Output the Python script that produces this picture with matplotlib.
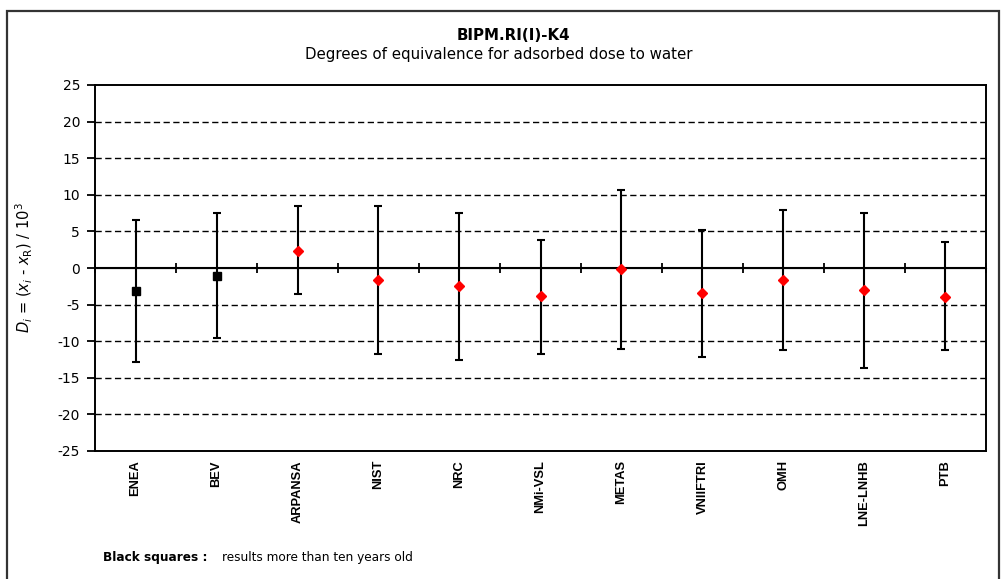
import matplotlib
matplotlib.use("Agg")
import matplotlib.pyplot as plt
from matplotlib.patches import Rectangle
import numpy as np

# ---- data ----
labs = ["ENEA", "BEV", "ARPANSA", "NIST", "NRC", "NMi-VSL", "METAS",
        "VNIIFTRI", "OMH", "LNE-LNHB", "PTB"]
vals = [-3.1, -1.05, 2.3, -1.6, -2.5, -3.8, -0.1, -3.4, -1.7, -3.0, -4.0]
upper = [6.5, 7.55, 8.5, 8.5, 7.55, 3.8, 10.6, 5.15, 7.9, 7.55, 3.55]
lower = [-12.9, -9.6, -3.6, -11.8, -12.6, -11.75, -11.0, -12.1, -11.2, -13.7, -11.2]
old = [True, True, False, False, False, False, False, False, False, False, False]
yticks = [-25, -20, -15, -10, -5, 0, 5, 10, 15, 20, 25]
gridvals = [-20, -15, -10, -5, 5, 10, 15, 20]

W, H = 1002, 579
fig = plt.figure(figsize=(W / 100, H / 100), dpi=100)
ax = fig.add_axes([95 / W, 1 - 451 / H, (986 - 95) / W, (451 - 85) / H])

x = np.arange(len(labs))
v = np.array(vals)
up = np.array(upper)
lo = np.array(lower)
oldm = np.array(old)

# gridlines
for g in gridvals:
    ax.axhline(g, color="black", lw=1.0, ls=(0, (4.5, 2.5)), zorder=1)
# zero line
ax.axhline(0, color="black", lw=1.5, zorder=2)

# error bars
ax.errorbar(x, v, yerr=[v - lo, up - v], fmt="none", ecolor="black",
            elinewidth=1.5, capsize=2.7, capthick=1.5, zorder=3)
ax.plot(x[oldm], v[oldm], ls="none", marker="s", ms=5.8, color="black", zorder=4)
ax.plot(x[~oldm], v[~oldm], ls="none", marker="D", ms=5.0, color="#ff0000",
        mec="#ff0000", zorder=4)

ax.set_xlim(-0.5, len(labs) - 0.5)
ax.set_ylim(-25, 25)
ax.set_yticks(yticks)
ax.set_yticklabels([str(t) for t in yticks], fontsize=10, family="DejaVu Sans")
ax.tick_params(axis="y", direction="out", length=5.8, width=1.3, pad=5)
ax.set_xticks(x)
ax.set_xticklabels(labs, rotation=90, fontsize=9.3, fontweight="bold",
                   family=["Liberation Sans", "DejaVu Sans"], va="top")
ax.tick_params(axis="x", length=0, pad=6.5)
for s in ax.spines.values():
    s.set_linewidth(1.4)
    s.set_color("black")

# zero axis with category boundary ticks
sec = ax.secondary_xaxis(0.5)
sec.set_xticks(np.arange(len(labs) + 1) - 0.5)
sec.set_xticklabels([])
sec.tick_params(direction="inout", length=6.5, width=1.3)
sec.spines["bottom"].set_linewidth(1.5)
sec.spines["bottom"].set_color("black")

ax.set_ylabel(r"$D_i$ = ($x_i$ - $x_{\mathrm{R}}$) / 10$^{3}$", fontsize=10.5,
              family="DejaVu Sans")
ax.yaxis.set_label_coords(-60 / (986 - 95), 0.5)

fig.text(513 / W, 1 - 35 / H, "BIPM.RI(I)-K4", ha="center", va="center",
         fontsize=10.8, fontweight="bold", family="DejaVu Sans")
fig.text(499 / W, 1 - 55 / H, "Degrees of equivalence for adsorbed dose to water",
         ha="center", va="center", fontsize=10.8, family="DejaVu Sans")
fig.text(103 / W, 1 - 557 / H, "Black squares :", ha="left", va="center",
         fontsize=8.7, fontweight="bold", family="DejaVu Sans")
fig.text(222 / W, 1 - 557 / H, "results more than ten years old", ha="left",
         va="center", fontsize=8.7, family="DejaVu Sans")

fig.patches.append(Rectangle((7 / W, -0.05), (999 - 7) / W, 1.05 - 11 / H,
                             transform=fig.transFigure, fill=False,
                             edgecolor="#333333", lw=1.6))

fig.savefig("out.png", dpi=100)
